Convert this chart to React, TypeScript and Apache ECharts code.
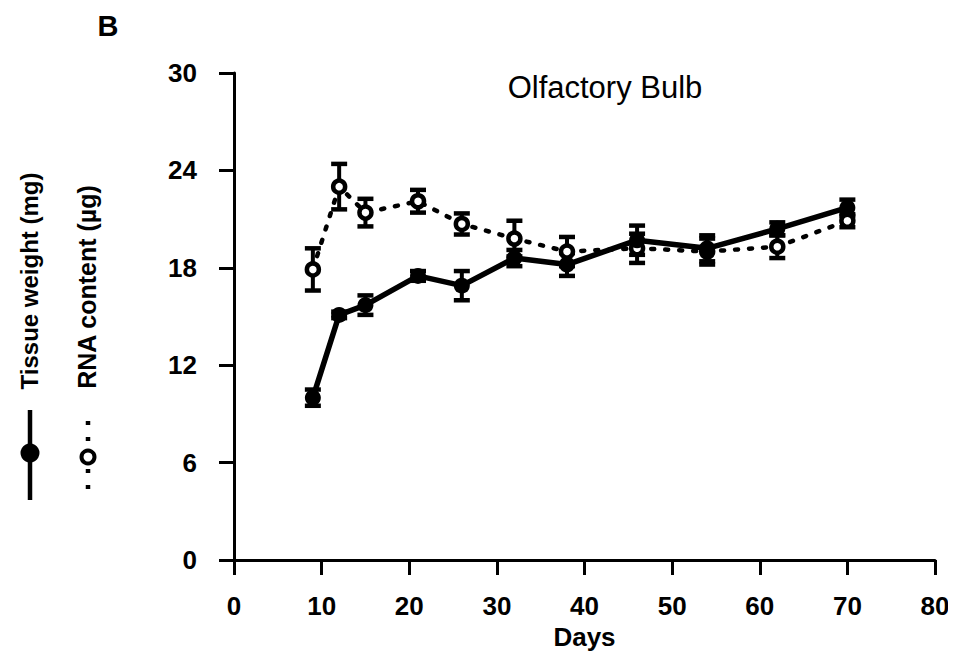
import React, { useEffect, useRef } from "react";
import * as echarts from "echarts";

const days = [9, 12, 15, 21, 26, 32, 38, 46, 54, 62, 70];
const tissueWeight = [10.0, 15.1, 15.7, 17.5, 16.9, 18.6, 18.2, 19.7, 19.2, 20.4, 21.7];
const tissueErr = [0.5, 0.2, 0.6, 0.3, 0.9, 0.5, 0.7, 0.9, 0.8, 0.4, 0.5];
const rnaContent = [17.9, 23.0, 21.4, 22.1, 20.7, 19.8, 19.0, 19.2, 19.0, 19.3, 20.9];
const rnaErr = [1.3, 1.4, 0.85, 0.7, 0.65, 1.1, 0.9, 0.9, 0.8, 0.7, 0.4];
const xTicks = [0, 10, 20, 30, 40, 50, 60, 70, 80];
const yTicks = [0, 6, 12, 18, 24, 30];

const FONT = "'Liberation Sans', Arial, Helvetica, sans-serif";

function errorData(vals: number[], errs: number[]) {
  return days.map((d, i) => [d, vals[i] - errs[i], vals[i] + errs[i]]);
}

function errorRender(params: any, api: any) {
  const x = api.value(0);
  const lo = api.coord([x, api.value(1)]);
  const hi = api.coord([x, api.value(2)]);
  const w = 8;
  const style = { stroke: "#000", lineWidth: 4 };
  return {
    type: "group",
    children: [
      { type: "line", shape: { x1: lo[0], y1: lo[1], x2: hi[0], y2: hi[1] }, style },
      { type: "line", shape: { x1: lo[0] - w, y1: lo[1], x2: lo[0] + w, y2: lo[1] }, style: { stroke: "#000", lineWidth: 4.5 } },
      { type: "line", shape: { x1: hi[0] - w, y1: hi[1], x2: hi[0] + w, y2: hi[1] }, style: { stroke: "#000", lineWidth: 4.5 } },
    ],
  };
}

export default function App() {
  const ref = useRef<HTMLDivElement>(null);
  useEffect(() => {
    if (!ref.current) return;
    const chart = echarts.init(ref.current, null, { renderer: "svg" });
    chart.setOption({
      animation: false,
      backgroundColor: "#fff",
      grid: { left: 226, right: 13, top: 65, bottom: 93, containLabel: false, outerBoundsMode: "none" },
      xAxis: {
        type: "value",
        min: 0,
        max: 80,
        interval: 10,
        name: "Days",
        nameLocation: "middle",
        nameGap: 56,
        nameTextStyle: { fontFamily: FONT, fontSize: 26, fontWeight: "bold", color: "#000" },
        axisLine: { show: true, lineStyle: { color: "#000", width: 3 } },
        axisTick: { show: true, length: 15, lineStyle: { color: "#000", width: 3 } },
        axisLabel: {
          margin: 33,
          fontFamily: FONT,
          fontSize: 26,
          fontWeight: "bold",
          color: "#000",
          formatter: (v: number) => (xTicks.includes(v) ? String(v) : ""),
        },
        splitLine: { show: false },
      },
      yAxis: {
        type: "value",
        min: 0,
        max: 30,
        interval: 6,
        axisLine: { show: true, lineStyle: { color: "#000", width: 3 } },
        axisTick: { show: true, length: 15, lineStyle: { color: "#000", width: 3 } },
        axisLabel: {
          margin: 37,
          fontFamily: FONT,
          fontSize: 26,
          fontWeight: "bold",
          color: "#000",
          formatter: (v: number) => (yTicks.includes(v) ? String(v) : ""),
        },
        splitLine: { show: false },
      },
      series: [
        {
          type: "custom",
          name: "RNA err",
          renderItem: errorRender,
          data: errorData(rnaContent, rnaErr),
          z: 3,
        },
        {
          type: "custom",
          name: "Tissue err",
          renderItem: errorRender,
          data: errorData(tissueWeight, tissueErr),
          z: 3,
        },
        {
          type: "line",
          name: "RNA content",
          data: days.map((d, i) => [d, rnaContent[i]]),
          symbol: "circle",
          symbolSize: 12,
          lineStyle: { color: "#000", width: 4.5, type: [3, 11], cap: "round" },
          itemStyle: { color: "#fff", borderColor: "#000", borderWidth: 4.5 },
          z: 4,
        },
        {
          type: "line",
          name: "Tissue weight",
          data: days.map((d, i) => [d, tissueWeight[i]]),
          symbol: "circle",
          symbolSize: 16,
          lineStyle: { color: "#000", width: 5.5 },
          itemStyle: { color: "#000" },
          z: 5,
        },
      ],
      graphic: [
        {
          type: "text",
          x: 100,
          y: 18,
          style: {
            text: "B",
            fontFamily: FONT,
            fontSize: 29,
            fontWeight: "bold",
            fill: "#000",
            align: "center",
            verticalAlign: "middle",
          },
        },
        {
          type: "text",
          x: 597,
          y: 79,
          style: {
            text: "Olfactory Bulb",
            fontFamily: FONT,
            fontSize: 31,
            fontWeight: "normal",
            fill: "#000",
            align: "center",
            verticalAlign: "middle",
          },
        },
        {
          type: "text",
          x: 21,
          y: 273,
          rotation: Math.PI / 2,
          style: {
            text: "Tissue weight (mg)",
            fontFamily: FONT,
            fontSize: 24,
            fontWeight: "bold",
            fill: "#000",
            align: "center",
            verticalAlign: "middle",
          },
        },
        {
          type: "text",
          x: 79,
          y: 279,
          rotation: Math.PI / 2,
          style: {
            text: "RNA content (µg)",
            fontFamily: FONT,
            fontSize: 25,
            fontWeight: "bold",
            fill: "#000",
            align: "center",
            verticalAlign: "middle",
          },
        },
        {
          type: "line",
          shape: { x1: 22, y1: 402, x2: 22, y2: 492 },
          style: { stroke: "#000", lineWidth: 4.5 },
        },
        {
          type: "circle",
          shape: { cx: 22, cy: 445, r: 9.5 },
          style: { fill: "#000" },
        },
        {
          type: "line",
          shape: { x1: 80, y1: 413, x2: 80, y2: 492 },
          style: { stroke: "#000", lineWidth: 4.5, lineDash: [4, 12] },
        },
        {
          type: "circle",
          shape: { cx: 80, cy: 449, r: 6.5 },
          style: { fill: "#fff", stroke: "#000", lineWidth: 4 },
        },
      ],
    });
    return () => chart.dispose();
  }, []);
  return <div ref={ref} style={{ width: 940, height: 645 }} />;
}
